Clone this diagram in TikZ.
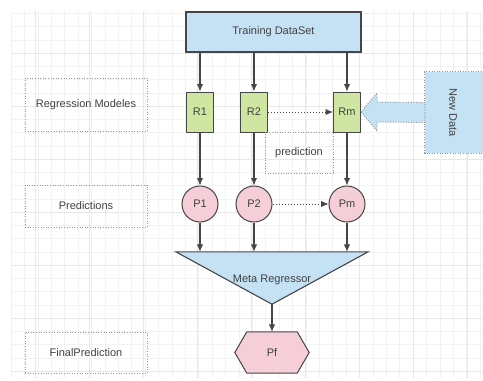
\documentclass[tikz,border=0pt]{standalone}
\usepackage{fontspec}
\setmainfont{Liberation Sans}
\usetikzlibrary{arrows.meta,calc}
\definecolor{bluefill}{RGB}{196,226,244}
\definecolor{greenfill}{RGB}{207,230,163}
\definecolor{pinkfill}{RGB}{245,206,216}
\definecolor{edge}{RGB}{70,70,70}
\definecolor{txt}{RGB}{65,65,65}
\definecolor{dotgray}{RGB}{150,150,150}
\tikzset{
  base/.style={font=\fontsize{11}{13}\selectfont, text=txt, inner sep=0pt},
  bluebox/.style={base, draw=edge, line width=1.1pt, fill=bluefill},
  rbox/.style={base, draw=edge, line width=1pt, fill=greenfill, minimum width=27pt, minimum height=40pt},
  pcirc/.style={base, circle, draw=edge, line width=1pt, fill=pinkfill, minimum size=36pt},
  lblbox/.style={base, draw=dotgray, line width=0.9pt, dash pattern=on 1pt off 1.6pt},
  conn/.style={draw=edge, line width=1.1pt, -{Latex[length=7.5pt,width=6.5pt]}},
  dotconn/.style={draw=edge, line width=1pt, dash pattern=on 1pt off 2pt, -{Latex[length=7.5pt,width=6.5pt]}},
  dotline/.style={draw=dotgray, line width=0.9pt, dash pattern=on 1pt off 1.6pt},
}
\begin{document}
\begin{tikzpicture}[x=1pt,y=-1pt]
\useasboundingbox (0,0) rectangle (483,381);
\fill[white] (0,0) rectangle (483,381);
% grid
\foreach \i in {0,...,35} {
  \draw[black!5, line width=0.4pt] ({11+13.4*\i},11) -- ({11+13.4*\i},378);
}
\foreach \j in {0,...,27} {
  \draw[black!5, line width=0.4pt] (11,{13.25+13.25*\j}) -- (483,{13.25+13.25*\j});
}
\foreach \i in {0,...,8} {
  \draw[black!9, line width=0.6pt] ({35+54*\i},11) -- ({35+54*\i},378);
}
\foreach \j in {1,...,7} {
  \draw[black!9, line width=0.6pt] (11,{53*\j}) -- (483,{53*\j});
}

% left labels
\node[lblbox, minimum width=122pt, minimum height=53pt] (regmod) at (86,104.5) {Regression Modeles};
\node[lblbox, minimum width=122pt, minimum height=42pt] (preds) at (86,206) {Predictions};
\node[lblbox, minimum width=122pt, minimum height=41pt] (finpred) at (86,352.5) {FinalPrediction};

% training
\node[bluebox, minimum width=175pt, minimum height=40pt] (train) at (273.5,32) {Training DataSet};

% regressors
\node[rbox] (R1) at (200,112) {R1};
\node[rbox] (R2) at (254,112) {R2};
\node[rbox] (Rm) at (347,112) {Rm};

% prediction label
\node[lblbox, minimum width=68pt, minimum height=41pt] (predlbl) at (299,152.5) {prediction};

% predictions
\node[pcirc] (P1) at (200,204) {P1};
\node[pcirc] (P2) at (254,204) {P2};
\node[pcirc] (Pm) at (347,204) {Pm};

% new data
\node[base, fill=bluefill, minimum width=62pt, minimum height=81pt] (nd) at (456,112.5) {};
\draw[dotline] (nd.north east) -- (nd.north west) -- (nd.south west) -- (nd.south east);
\node[base, rotate=-90] (ndtext) at (453,112.5) {New Data};

% big arrow
\draw[dotline, fill=bluefill] (Rm.east) -- ++(16,-19) -- ++(0,9)
  -- ($(nd.west)+(0,-10)$) -- ($(nd.west)+(0,10)$) -- ($(Rm.east)+(16,10)$)
  -- ++(0,9) -- cycle;

% meta regressor triangle
\node[base, minimum width=192pt, minimum height=52pt] (meta) at (272,278) {};
\draw[draw=edge, line width=1.1pt, fill=bluefill] (meta.north west) -- (meta.north east) -- (meta.south) -- cycle;
\node[base] (metatext) at (272,280) {Meta Regressor};

% final hexagon
\node[base, minimum width=74pt, minimum height=41pt] (hex) at (272,352.5) {};
\draw[draw=edge, line width=1pt, fill=pinkfill] (hex.west) -- ($(hex.north west)+(12,0)$) -- ($(hex.north east)+(-12,0)$)
  -- (hex.east) -- ($(hex.south east)+(-12,0)$) -- ($(hex.south west)+(12,0)$) -- cycle;
\node[base] (Pf) at (hex.center) {Pf};

% connectors
\draw[conn] (R1 |- train.south) -- (R1);
\draw[conn] (R2 |- train.south) -- (R2);
\draw[conn] (Rm |- train.south) -- (Rm);
\draw[dotconn] (R2) -- (Rm);
\draw[conn] (R1) -- (P1);
\draw[conn] (R2) -- (P2);
\draw[conn] (Rm) -- (Pm);
\draw[dotconn] (P2) -- (Pm);
\draw[conn] (P1) -- (P1 |- meta.north);
\draw[conn] (P2) -- (P2 |- meta.north);
\draw[conn] (Pm) -- (Pm |- meta.north);
\draw[conn] (meta.south) -- (hex.north);
\end{tikzpicture}
\end{document}
